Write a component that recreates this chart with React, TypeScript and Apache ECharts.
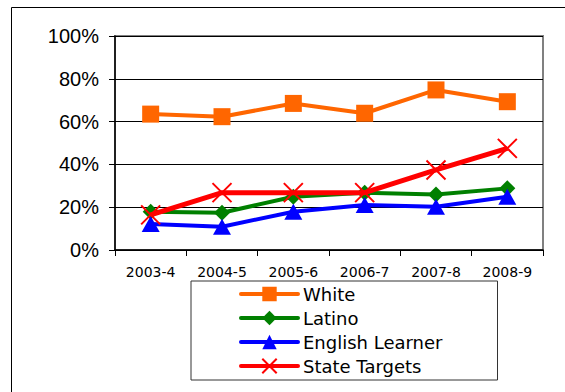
import React, { useEffect, useRef } from "react";
import * as echarts from "echarts";

const categories = ["2003-4", "2004-5", "2005-6", "2006-7", "2007-8", "2008-9"];
const yTicks = [0, 20, 40, 60, 80, 100];
const white = [63.5, 62.3, 68.5, 63.9, 74.8, 69.3];
const latino = [17.9, 17.4, 24.9, 26.8, 25.9, 28.8];
const englishLearner = [12.1, 10.9, 17.9, 21.0, 20.2, 24.9];
const stateTargets = [16.4, 26.8, 26.8, 26.8, 37.4, 47.5];

const seriesNames = ["White", "Latino", "English Learner", "State Targets"];

export default function App() {
  const ref = useRef<HTMLDivElement>(null);
  useEffect(() => {
    if (!ref.current) return;
    const chart = echarts.init(ref.current, undefined, { renderer: "svg" });
    const xMark = "path://M0 0L10 10M10 0L0 10";
    chart.setOption({
      animation: false,
      backgroundColor: "#ffffff",
      graphic: [
        {
          type: "rect",
          shape: { x: 11.5, y: 7.5, width: 700, height: 600 },
          style: { fill: "none", stroke: "#000", lineWidth: 1 },
          silent: true,
        },
      ],
      grid: {
        left: 115,
        top: 36,
        right: 22,
        bottom: 142,
        show: true,
        borderColor: "#808080",
        borderWidth: 2,
        backgroundColor: "transparent",
      },
      legend: {
        orient: "vertical",
        left: 191,
        top: 281,
        padding: [3, 55, 4, 48],
        itemGap: 4,
        itemWidth: 57,
        itemHeight: 18,
        backgroundColor: "#fff",
        borderColor: "#333",
        borderWidth: 1,
        lineStyle: { width: 4, cap: "round" },
        textStyle: {
          fontFamily: "DejaVu Sans",
          fontSize: 18,
          lineHeight: 20,
          color: "#000",
        },
        data: seriesNames,
      },
      xAxis: {
        type: "category",
        data: categories,
        boundaryGap: true,
        axisLine: { lineStyle: { color: "#000", width: 1.5 } },
        axisTick: { show: true, length: 6, lineStyle: { color: "#000" } },
        axisLabel: {
          margin: 15,
          fontFamily: "DejaVu Sans",
          fontSize: 14,
          color: "#000",
          interval: 0,
        },
        splitLine: { show: false },
      },
      yAxis: {
        type: "value",
        min: yTicks[0],
        max: yTicks[yTicks.length - 1],
        interval: 20,
        axisLine: { show: true, lineStyle: { color: "#000", width: 1.5 } },
        axisTick: { show: true, length: 6, lineStyle: { color: "#000" } },
        axisLabel: {
          margin: 16,
          formatter: "{value}%",
          fontFamily: "Liberation Sans",
          fontSize: 20,
          color: "#000",
        },
        splitLine: { show: true, lineStyle: { color: "#000", width: 1 } },
      },
      series: [
        {
          name: "White",
          type: "line",
          data: white,
          z: 2,
          symbol: "rect",
          symbolSize: 17,
          lineStyle: { color: "#FF6600", width: 4 },
          itemStyle: { color: "#FF6600" },
          emphasis: { disabled: true },
        },
        {
          name: "Latino",
          type: "line",
          data: latino,
          z: 3,
          symbol: "diamond",
          symbolSize: 16,
          lineStyle: { color: "#008000", width: 4 },
          itemStyle: { color: "#008000" },
          emphasis: { disabled: true },
        },
        {
          name: "English Learner",
          type: "line",
          data: englishLearner,
          z: 4,
          symbol: "triangle",
          symbolSize: [18, 16],
          lineStyle: { color: "#0000FF", width: 4 },
          itemStyle: { color: "#0000FF" },
          emphasis: { disabled: true },
        },
        {
          name: "State Targets",
          type: "line",
          data: stateTargets,
          z: 5,
          symbol: xMark,
          symbolSize: 19,
          lineStyle: { color: "#FF0000", width: 5 },
          itemStyle: { color: "#FF0000", borderColor: "#FF0000", borderWidth: 2 },
          emphasis: { disabled: true },
        },
      ],
    });
    return () => chart.dispose();
  }, []);
  return (
    <div
      ref={ref}
      style={{ position: "fixed", left: 0, top: 0, width: 565, height: 392 }}
    />
  );
}
